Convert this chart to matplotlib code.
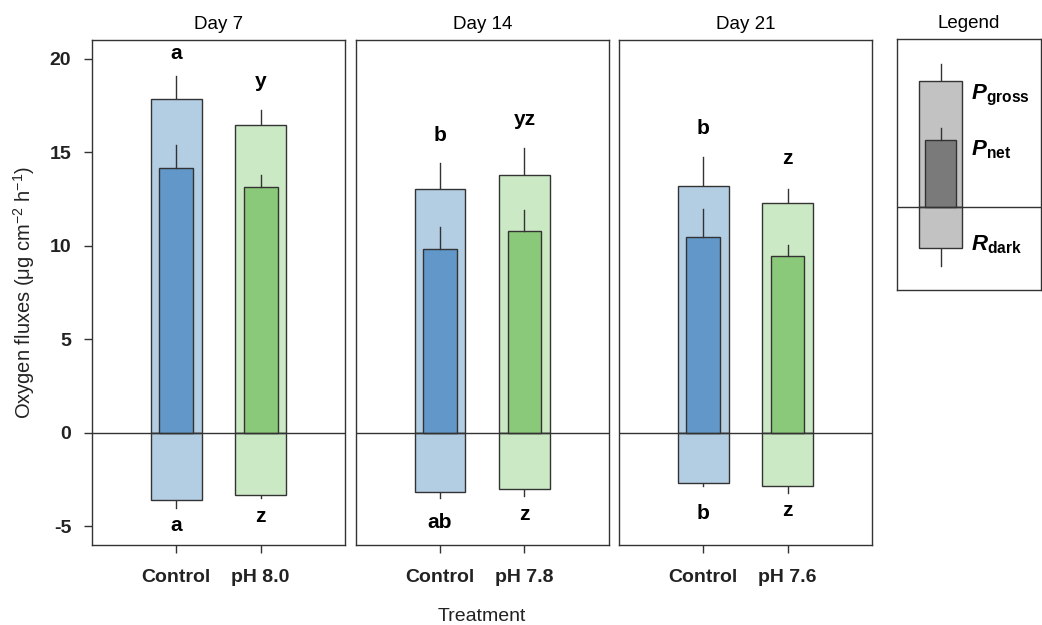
"""Oxygen fluxes (gross, net, dark) per treatment over three sampling days."""

import matplotlib.pyplot as plt

plt.rcParams["font.family"] = ["Liberation Sans", "DejaVu Sans"]
plt.rcParams["mathtext.fontset"] = "custom"
plt.rcParams["mathtext.rm"] = "Liberation Sans"
plt.rcParams["mathtext.bf"] = "Liberation Sans:bold"
plt.rcParams["mathtext.bfit"] = "Liberation Sans:bold:italic"

days = ["Day 7", "Day 14", "Day 21"]
treatments = [["Control", "pH 8.0"], ["Control", "pH 7.8"], ["Control", "pH 7.6"]]

# per day: [control, acidified]
p_gross = [[17.82, 16.45], [13.03, 13.79], [13.19, 12.30]]
p_gross_err = [[1.23, 0.79], [1.38, 1.43], [1.54, 0.75]]
p_net = [[14.18, 13.15], [9.83, 10.81], [10.49, 9.45]]
p_net_err = [[1.23, 0.64], [1.17, 1.11], [1.45, 0.59]]
r_dark = [[-3.60, -3.30], [-3.19, -2.98], [-2.68, -2.85]]
r_dark_err = [[0.40, 0.17], [0.32, 0.39], [0.15, 0.37]]

top_letters = [["a", "y"], ["b", "yz"], ["b", "z"]]
top_letter_y = [[20.3, 18.8], [15.9, 16.75], [16.28, 14.66]]
bottom_letters = [["a", "z"], ["ab", "z"], ["b", "z"]]
bottom_letter_y = [[-4.96, -4.45], [-4.81, -4.39], [-4.32, -4.15]]

# legend sketch values
leg_gross, leg_gross_err = 8.05, 1.08
leg_net, leg_net_err = 4.28, 0.78
leg_dark, leg_dark_err = -2.64, 1.11

light_colors = ["#b3cde3", "#cce9c5"]
dark_colors = ["#6297c9", "#8bc97a"]
edge = "#333333"

fig = plt.figure(figsize=(10.42, 6.25), dpi=100)
lefts = [0.0883, 0.3414, 0.594]

for i, day in enumerate(days):
    ax = fig.add_axes([lefts[i], 0.128, 0.2428, 0.808])
    x = [1, 2]
    ax.bar(x, p_gross[i], width=0.6, color=light_colors, edgecolor=edge, linewidth=1, zorder=2)
    ax.bar(x, r_dark[i], width=0.6, color=light_colors, edgecolor=edge, linewidth=1, zorder=2)
    ax.bar(x, p_net[i], width=0.4, color=dark_colors, edgecolor=edge, linewidth=1, zorder=3)
    for j in range(2):
        ax.plot([x[j], x[j]], [p_gross[i][j], p_gross[i][j] + p_gross_err[i][j]],
                color=edge, lw=1, zorder=1)
        ax.plot([x[j], x[j]], [p_net[i][j], p_net[i][j] + p_net_err[i][j]],
                color=edge, lw=1, zorder=3)
        ax.plot([x[j], x[j]], [r_dark[i][j], r_dark[i][j] - r_dark_err[i][j]],
                color=edge, lw=1, zorder=1)
        ax.text(x[j], top_letter_y[i][j], top_letters[i][j], ha="center", va="center",
                fontsize=15, fontweight="bold")
        ax.text(x[j], bottom_letter_y[i][j], bottom_letters[i][j], ha="center", va="center",
                fontsize=15, fontweight="bold")
    ax.axhline(0, color=edge, lw=1, zorder=4)
    ax.set_xlim(0, 3)
    ax.set_ylim(-6, 21)
    ax.set_xticks(x)
    ax.set_xticklabels(treatments[i], fontsize=14, fontweight="bold", color="#222222")
    ax.tick_params(axis="x", length=6, width=1, pad=11, color=edge)
    ax.set_title(day, fontsize=13.5, pad=8)
    if i == 0:
        ax.set_yticks([-5, 0, 5, 10, 15, 20])
        ax.set_yticklabels(["-5", "0", "5", "10", "15", "20"], fontsize=14, fontweight="bold",
                           color="#222222")
        ax.tick_params(axis="y", length=6, width=1, pad=9, color=edge)
        ax.set_ylabel("Oxygen fluxes (\u03bcg cm$\\mathregular{^{-2}}$ h$\\mathregular{^{-1}}$)",
                      fontsize=14.5, labelpad=9, color="#222222")
    else:
        ax.set_yticks([])
    if i == 1:
        ax.set_xlabel("Treatment", fontsize=14, labelpad=16, color="#222222")
    for s in ax.spines.values():
        s.set_color(edge)
        s.set_linewidth(1)

# legend panel
lg = fig.add_axes([0.8608, 0.536, 0.1385, 0.4016])
cx = 0.302
lg.bar([cx], [leg_gross], width=0.297, color="#c2c2c2", edgecolor=edge, lw=1, zorder=2)
lg.bar([cx], [leg_dark], width=0.297, color="#c2c2c2", edgecolor=edge, lw=1, zorder=2)
lg.bar([cx], [leg_net], width=0.219, color="#7a7a7a", edgecolor=edge, lw=1, zorder=3)
lg.plot([cx, cx], [leg_gross, leg_gross + leg_gross_err], color=edge, lw=1, zorder=1)
lg.plot([cx, cx], [leg_net, leg_net + leg_net_err], color=edge, lw=1, zorder=3)
lg.plot([cx, cx], [leg_dark, leg_dark - leg_dark_err], color=edge, lw=1, zorder=1)
lg.axhline(0, color=edge, lw=1, zorder=4)
lg.text(0.51, 7.15, r"$\bfit{P}_{\mathbf{gross}}$", fontsize=16, va="center")
lg.text(0.51, 3.64, r"$\bfit{P}_{\mathbf{net}}$", fontsize=16, va="center")
lg.text(0.51, -2.43, r"$\bfit{R}_{\mathbf{dark}}$", fontsize=16, va="center")
lg.set_xlim(0, 1)
lg.set_ylim(-5.3, 10.73)
lg.set_xticks([])
lg.set_yticks([])
lg.set_title("Legend", fontsize=13.5, pad=8)
for s in lg.spines.values():
    s.set_color(edge)
    s.set_linewidth(1)

fig.savefig("out.png", dpi=100)
